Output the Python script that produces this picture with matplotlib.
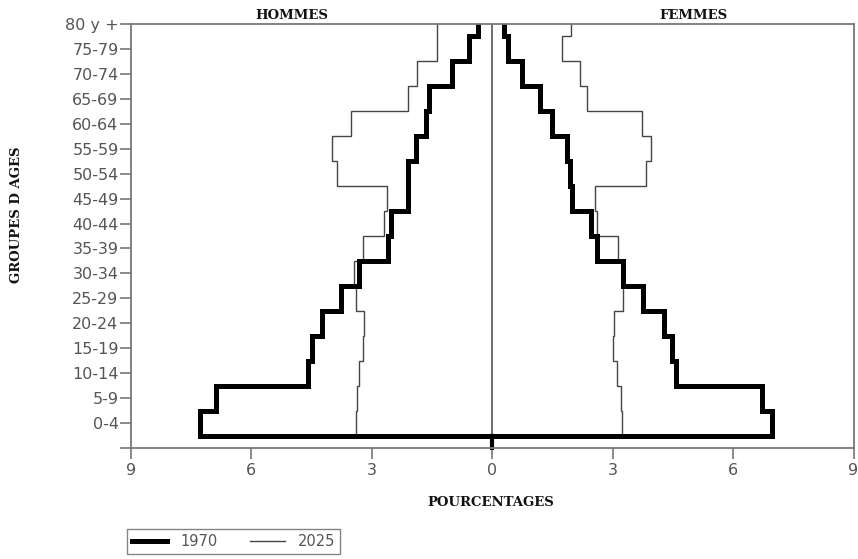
import numpy as np
import matplotlib
matplotlib.use("Agg")
import matplotlib.pyplot as plt
from matplotlib.lines import Line2D

# ---- data ----
age_groups = ['0-4', '5-9', '10-14', '15-19', '20-24', '25-29', '30-34', '35-39',
              '40-44', '45-49', '50-54', '55-59', '60-64', '65-69', '70-74', '75-79', '80 y +']
male_1970 = [7.29, 6.87, 4.60, 4.50, 4.23, 3.76, 3.31, 2.60, 2.52, 2.11, 2.11, 1.90, 1.65, 1.57, 1.00, 0.57, 0.35]
female_1970 = [6.97, 6.72, 4.58, 4.48, 4.28, 3.75, 3.26, 2.60, 2.47, 1.98, 1.93, 1.87, 1.50, 1.20, 0.75, 0.40, 0.30]
male_2025 = [3.39, 3.36, 3.31, 3.23, 3.20, 3.40, 3.45, 3.22, 2.70, 2.61, 3.87, 3.98, 3.52, 2.11, 1.87, 1.37, 1.37]
female_2025 = [3.23, 3.20, 3.10, 3.00, 3.03, 3.25, 3.25, 3.14, 2.61, 2.55, 3.82, 3.95, 3.72, 2.35, 2.18, 1.75, 1.95]
x_ticks = [-9, -6, -3, 0, 3, 6, 9]
x_ticklabels = ['9', '6', '3', '0', '3', '6', '9']
series_labels = ['1970', '2025']

plt.rcParams['font.family'] = ['DejaVu Sans']

fig = plt.figure(figsize=(8.58, 5.59), dpi=100)
ax = fig.add_axes([131 / 858, 1 - 448 / 559, 722.5 / 858, (448 - 24) / 559])

n = len(age_groups)
edges = np.arange(n + 1) - 0.5

bold_kw = dict(color='black', linewidth=3.6)
thin_kw = dict(color='#444444', linewidth=1.0)

# 2025 (thin)
ax.stairs(-np.array(male_2025), edges, orientation='horizontal', baseline=0, **thin_kw)
ax.stairs(np.array(female_2025), edges, orientation='horizontal', baseline=0, **thin_kw)
# 1970 (bold)
ax.stairs(-np.array(male_1970), edges, orientation='horizontal', baseline=0, **bold_kw)
ax.stairs(np.array(female_1970), edges, orientation='horizontal', baseline=0, **bold_kw)

# center line
ax.axvline(0, color='#555555', linewidth=1.2, zorder=1)
ax.plot([0, 0], [-1, -0.5], color='black', linewidth=3.0, clip_on=False)

ax.set_xlim(-9, 9)
ax.set_ylim(-1, n - 1)

ax.set_xticks(x_ticks)
ax.set_xticklabels(x_ticklabels)
ax.set_yticks(list(range(-1, n)))
ax.set_yticklabels([''] + age_groups)

for s in ax.spines.values():
    s.set_color('#777777')
    s.set_linewidth(1.3)

ax.tick_params(axis='both', colors='#777777', labelcolor='#555555', width=1.2,
               length=8, direction='out', labelsize=11.5)
ax.tick_params(axis='y', pad=1)
ax.tick_params(axis='x', pad=3)

label_font = dict(family='DejaVu Serif', fontweight='bold', fontsize=9.5, color='#111111')
ax.text(-5, n - 1 + 0.08, 'HOMMES', ha='center', va='bottom', **label_font)
ax.text(5, n - 1 + 0.08, 'FEMMES', ha='center', va='bottom', **label_font)
fig.text(491 / 858, 1 - 502 / 559, 'POURCENTAGES', ha='center', va='center', **label_font)
fig.text(17 / 858, 1 - 215 / 559, 'GROUPES D AGES', ha='center', va='center', rotation=90, **label_font)

handles = [Line2D([], [], **bold_kw), Line2D([], [], **thin_kw)]
leg = fig.legend(handles, series_labels, loc='upper left',
                 bbox_to_anchor=(127 / 858, 1 - 529 / 559), ncol=2, frameon=True,
                 fancybox=False, fontsize=10.5, handlelength=2.4, columnspacing=2.2,
                 borderpad=0.35, handletextpad=0.9, borderaxespad=0)
leg.get_frame().set_edgecolor('#666666')
leg.get_frame().set_linewidth(1.0)
for t in leg.get_texts():
    t.set_color('#555555')

fig.savefig('out.png', dpi=100)
